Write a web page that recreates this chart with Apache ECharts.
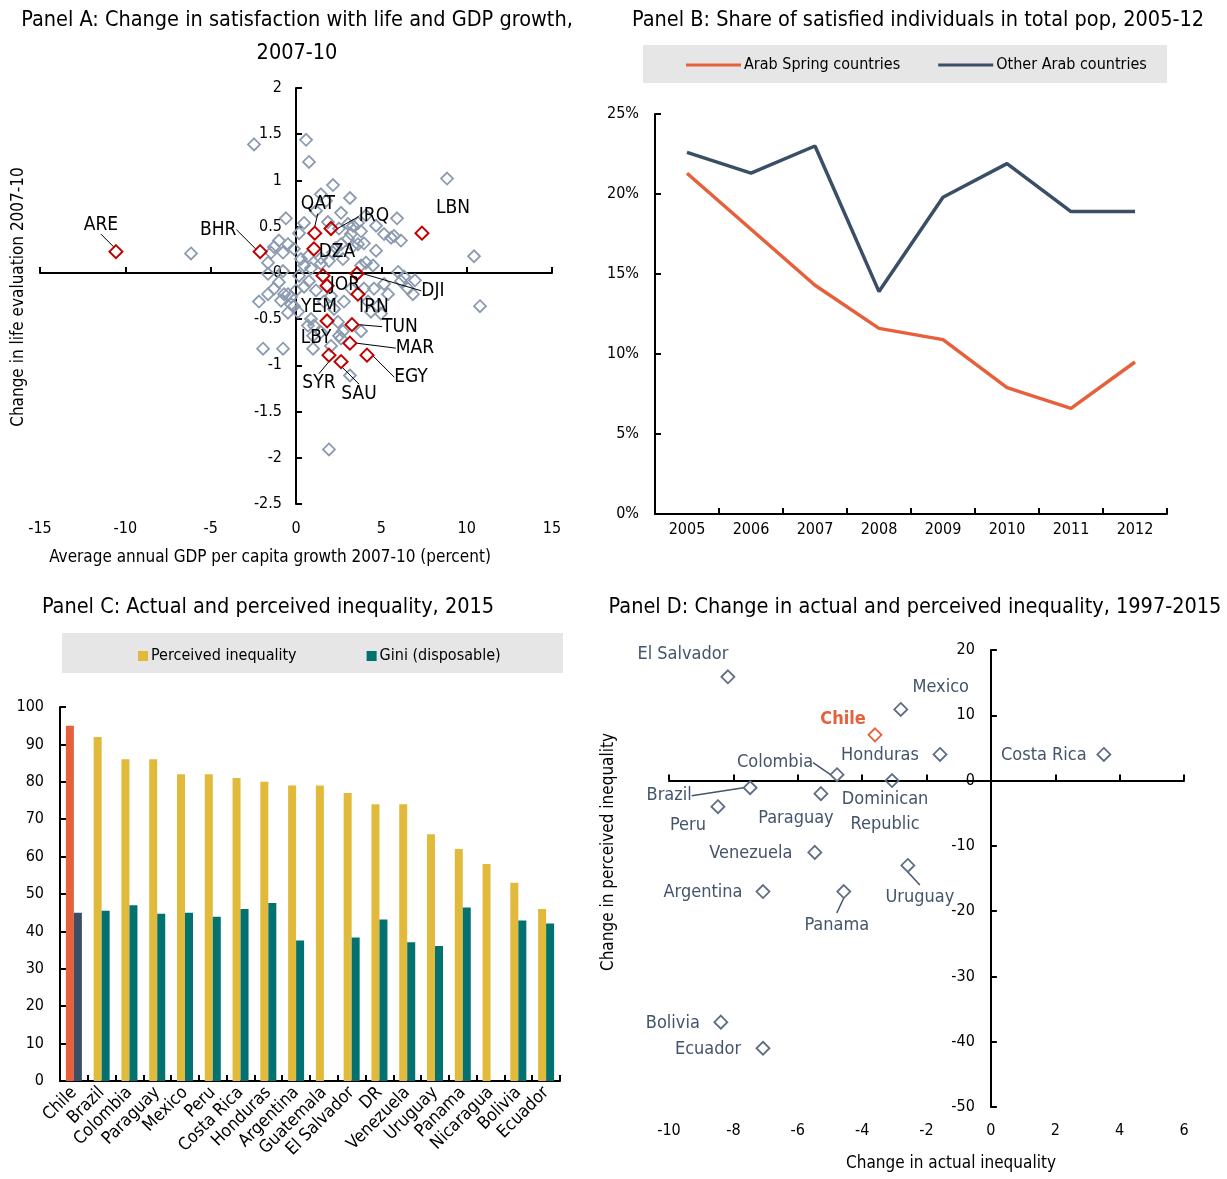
<!DOCTYPE html>
<html>
<head>
<meta charset="utf-8">
<script src="https://cdn.jsdelivr.net/npm/echarts@6/dist/echarts.min.js"></script>
<style>
  html, body { margin: 0; padding: 0; background: #fff; }
  #chart { width: 1227px; height: 1179px; }
</style>
</head>
<body>
<div id="chart"></div>
<script>
// ---------- Panel A: life evaluation change vs GDP per capita growth, 2007-10 ----------
const arabCodes = ['ARE','BHR','QAT','IRQ','LBN','DZA','JOR','YEM','DJI','IRN','TUN','LBY','MAR','SYR','SAU','EGY'];
const arabGdpGrowth = [-10.55, -2.1, 1.1, 2.05, 7.38, 1.05, 1.58, 1.82, 3.57, 3.63, 3.28, 1.82, 3.16, 1.93, 2.64, 4.16];
const arabLifeChange = [0.23, 0.23, 0.43, 0.48, 0.43, 0.26, -0.03, -0.14, -0.01, -0.23, -0.56, -0.52, -0.76, -0.89, -0.96, -0.89];

const otherGdpGrowth = [
  -6.15, -2.46, 0.59, 0.76, 8.85, 10.43, 10.78, 1.93, -1.93, -0.76,
  3.16, 6.33, 6.97, 6.85, 5.92, 2.17, 3.16, -0.59, 0.47, 1.46,
  -1.0, -0.47, -0.12, 0.29, 0.70, 0.47, 0.88, 2.52, 3.05, 3.34,
  3.63, 3.81, 3.22, 3.05, 3.34, 3.98, 4.69, 5.16, 5.57, 6.15,
  5.74, 2.34, 2.75, 1.93, 1.46, 4.10, 4.51, 3.81, -1.46, -1.64,
  -2.17, -1.64, -1.29, -1.0, -0.47, -0.29, -0.12, 0.12, 0.47, 0.88,
  1.05, 1.0, 1.46, 2.46, 2.75, 2.52, 2.05, 4.22, 4.39, 4.80,
  3.98, 4.57, 6.15, 6.56, 5.98, 2.23, 2.81, 3.22, 1.64, 1.0,
  0.70, -0.70, -0.29, -0.47, 2.64, 3.81, 4.98, 5.39, 5.16, 1.87,
  2.64, 3.63, 2.17, 1.46, -0.76, -1.64, -1.29, -0.76, 0.18, 1.17,
  1.76, 2.64, 4.10, 4.69, 0.76, 1.17, 2.05, 0.18, 0.0, -0.88
];
const otherLifeChange = [
  0.21, 1.39, 1.44, 1.20, 1.02, 0.18, -0.36, -1.91, -0.82, -0.82,
  -1.11, -0.04, -0.08, -0.23, 0.59, 0.95, 0.81, 0.59, 0.54, 0.85,
  0.35, 0.31, 0.26, 0.15, 0.18, 0.08, 0.05, 0.48, 0.53, 0.51,
  0.54, 0.45, 0.42, 0.37, 0.29, 0.32, 0.24, 0.42, 0.38, 0.35,
  0.40, 0.27, 0.15, 0.13, 0.10, 0.11, 0.08, 0.08, 0.22, 0.11,
  -0.31, -0.23, -0.17, -0.10, -0.23, -0.26, -0.36, -0.42, -0.15, -0.50,
  -0.57, -0.68, -0.64, -0.53, -0.63, -0.68, -0.79, -0.31, -0.42, -0.36,
  -0.17, -0.17, -0.09, -0.17, 0.01, -0.39, -0.31, -0.17, -0.31, -0.82,
  -0.57, -0.23, -0.34, -0.43, -0.71, -0.63, -0.44, -0.23, -0.12, 0.55,
  0.31, 0.31, 0.22, 0.16, 0.02, -0.01, 0.28, 0.22, 0.43, 0.67,
  0.78, 0.65, 0.62, 0.51, -0.09, -0.19, -0.25, -0.03, -0.19, -0.30
];

// ---------- Panel B: share of satisfied individuals (%) ----------
const years = ['2005','2006','2007','2008','2009','2010','2011','2012'];
const arabSpringShare = [21.3, 17.8, 14.3, 11.6, 10.9, 7.9, 6.6, 9.5];
const otherArabShare = [22.6, 21.3, 23.0, 13.9, 19.8, 21.9, 18.9, 18.9];

// ---------- Panel C: perceived inequality and Gini, 2015 ----------
const countriesC = ['Chile','Brazil','Colombia','Paraguay','Mexico','Peru','Costa Rica','Honduras','Argentina',
  'Guatemala','El Salvador','DR','Venezuela','Uruguay','Panama','Nicaragua','Bolivia','Ecuador'];
const perceivedIneq = [95, 92, 86, 86, 82, 82, 81, 80, 79, 79, 77, 74, 74, 66, 62, 58, 53, 46];
const giniDisposable = [45, 45.5, 47, 44.7, 45, 43.9, 46, 47.6, 37.6, null, 38.4, 43.2, 37.1, 36.1, 46.4, null, 42.9, 42.1];

// ---------- Panel D: change in actual vs perceived inequality, 1997-2015 ----------
const countriesD = ['El Salvador','Mexico','Chile','Honduras','Costa Rica','Colombia','Dominican\nRepublic','Brazil',
  'Paraguay','Peru','Venezuela','Uruguay','Argentina','Panama','Bolivia','Ecuador'];
const actualChange = [-8.17, -2.8, -3.6, -1.58, 3.51, -4.78, -3.07, -7.48, -5.28, -8.48, -5.47, -2.58, -7.08, -4.57, -8.39, -7.08];
const perceivedChange = [15.9, 10.9, 7.0, 4.0, 4.0, 0.9, 0.0, -1.1, -2.0, -4.0, -11.0, -13.0, -17.0, -17.0, -37.0, -41.0];

// ---------- styling ----------
const FONT = "'DejaVu Sans Condensed','DejaVu Sans',sans-serif";
const ORANGE = '#e5603b';
const SLATE = '#3a4e66';
const GOLD = '#e1b93b';
const TEAL = '#037170';
const DARKRED = '#c00000';
const GREYMARK = '#8c9bb0';
const LABELD = '#44546a';

// label offsets (px) relative to each marker, and whether a guide line is drawn
const arabLabelOffsets = [[-15,-27],[-42,-22],[3,-29],[43,-12],[31,-25],[23,3],[22,9],[-8,21],[76,17],[16,13],[48,2],[-11,17],[65,5],[-10,28],[18,32],[44,22]];
const arabLabelGuides = [true,true,true,true,false,false,false,false,true,false,true,false,true,true,true,true];
const dLabelOffsets = [[-45,-22],[40,-22],[-32,-16],[-60,1],[-60,1],[-62,-12],[-7,31],[-81,8],[-25,25],[-30,19],[-64,1],[12,32],[-60,1],[-7,34],[-48,1],[-55,1]];
const dLabelGuides = [false,false,false,false,false,true,false,true,false,false,false,true,false,true,false,false];

// grid boxes
const gridA = { left: 40, top: 88, width: 512, height: 416 };
const gridB = { left: 655, top: 114, width: 512, height: 400 };
const gridC = { left: 60, top: 707, width: 500, height: 374 };
const gridD = { left: 669, top: 650, width: 515, height: 457 };
const xRangeA = [-15, 15];
const xRangeD = [-10, 6];
// shift a left-hand y axis so it sits on x = 0
const zeroShift = (g, r) => -g.width * (0 - r[0]) / (r[1] - r[0]);

const axisLineStyle = { color: '#000', width: 2 };
const tickStyle = { show: true, inside: true, length: 6, lineStyle: { color: '#000', width: 2 } };
const labelFont = { color: '#000', fontSize: 16, fontFamily: FONT };

const arabData = arabCodes.map((c, i) => ({
  name: c, value: [arabGdpGrowth[i], arabLifeChange[i]],
  labelLine: { show: arabLabelGuides[i] }
}));
const otherData = otherGdpGrowth.map((x, i) => [x, otherLifeChange[i]]);
const dData = countriesD.map((c, i) => ({
  name: c, value: [actualChange[i], perceivedChange[i]],
  itemStyle: c === 'Chile' ? { borderColor: ORANGE } : undefined,
  label: c === 'Chile' ? { color: ORANGE, fontWeight: 'bold' } : undefined,
  labelLine: { show: dLabelGuides[i] }
}));

function textEl(x, y, text, size, rot) {
  return {
    type: 'text', x: x, y: y, rotation: rot || 0, z: 10,
    style: { text: text, fill: '#000', font: size + 'px ' + FONT, align: 'center', verticalAlign: 'middle',
             textAlign: 'center', textVerticalAlign: 'middle' }
  };
}

const option = {
  animation: false,
  backgroundColor: '#fff',
  textStyle: { fontFamily: FONT },
  graphic: [
    textEl(297, 20, 'Panel A: Change in satisfaction with life and GDP growth,', 21.5),
    textEl(297, 53, '2007-10', 21.5),
    textEl(918, 20, 'Panel B: Share of satisfied individuals in total pop, 2005-12', 21.5),
    textEl(268, 607, 'Panel C: Actual and perceived inequality, 2015', 21.5),
    textEl(915, 607, 'Panel D: Change in actual and perceived inequality, 1997-2015', 21.5),
    textEl(19, 297, 'Change in life evaluation 2007-10', 17, Math.PI / 2),
    textEl(270, 558, 'Average annual GDP per capita growth 2007-10 (percent)', 17),
    textEl(609, 852, 'Change in perceived inequality', 17, Math.PI / 2),
    textEl(951, 1164, 'Change in actual inequality', 17),
    { type: 'rect', z: -10, shape: { x: 643, y: 45, width: 524, height: 38 }, style: { fill: '#e6e6e6' } },
    { type: 'rect', z: -10, shape: { x: 62, y: 633, width: 501, height: 40 }, style: { fill: '#e6e6e6' } }
  ],
  legend: [
    {
      data: ['Arab Spring countries', 'Other Arab countries'],
      left: 681, top: 52, icon: 'rect', itemWidth: 55, itemHeight: 3, itemGap: 38,
      textStyle: { color: '#000', fontSize: 16, fontFamily: FONT, padding: [0, 0, 0, -2] }
    },
    {
      data: ['Perceived inequality', 'Gini (disposable)'],
      left: 133, top: 643, icon: 'rect', itemWidth: 10, itemHeight: 10, itemGap: 70,
      textStyle: { color: '#000', fontSize: 16, fontFamily: FONT, padding: [0, 0, 0, -2] }
    }
  ],
  grid: [gridA, gridB, gridC, gridD].map(g => Object.assign({ outerBoundsMode: 'none', containLabel: false }, g)),
  xAxis: [
    { // Panel A: zero line with ticks
      gridIndex: 0, type: 'value', min: xRangeA[0], max: xRangeA[1], interval: 5, position: 'bottom',
      axisLine: { show: true, onZero: true, lineStyle: axisLineStyle },
      axisTick: tickStyle, axisLabel: { show: false }, splitLine: { show: false }
    },
    { // Panel A: tick labels along the bottom
      gridIndex: 0, type: 'value', min: xRangeA[0], max: xRangeA[1], interval: 5, position: 'bottom',
      axisLine: { show: false, onZero: false }, axisTick: { show: false },
      axisLabel: Object.assign({ margin: 17 }, labelFont), splitLine: { show: false }
    },
    { // Panel B
      gridIndex: 1, type: 'category', data: years, boundaryGap: true,
      axisLine: { lineStyle: axisLineStyle }, axisTick: tickStyle,
      axisLabel: Object.assign({ margin: 8 }, labelFont), splitLine: { show: false }
    },
    { // Panel C
      gridIndex: 2, type: 'category', data: countriesC, boundaryGap: true,
      axisLine: { lineStyle: axisLineStyle }, axisTick: tickStyle,
      axisLabel: Object.assign({}, labelFont, { margin: 9, rotate: 45, interval: 0, fontSize: 17.5 }), splitLine: { show: false }
    },
    { // Panel D: zero line with ticks
      gridIndex: 3, type: 'value', min: xRangeD[0], max: xRangeD[1], interval: 2, position: 'bottom',
      axisLine: { show: true, onZero: true, lineStyle: axisLineStyle },
      axisTick: tickStyle, axisLabel: { show: false }, splitLine: { show: false }
    },
    { // Panel D: tick labels along the bottom
      gridIndex: 3, type: 'value', min: xRangeD[0], max: xRangeD[1], interval: 2, position: 'bottom',
      axisLine: { show: false, onZero: false }, axisTick: { show: false },
      axisLabel: Object.assign({ margin: 16 }, labelFont), splitLine: { show: false }
    }
  ],
  yAxis: [
    {
      gridIndex: 0, type: 'value', min: -2.5, max: 2, interval: 0.5,
      position: 'left', offset: zeroShift(gridA, xRangeA),
      axisLine: { show: true, onZero: false, lineStyle: axisLineStyle },
      axisTick: tickStyle, axisLabel: Object.assign({ margin: 14 }, labelFont), splitLine: { show: false }
    },
    {
      gridIndex: 1, type: 'value', min: 0, max: 25, interval: 5,
      axisLine: { show: true, lineStyle: axisLineStyle },
      axisTick: tickStyle, axisLabel: Object.assign({ margin: 16, formatter: '{value}%' }, labelFont),
      splitLine: { show: false }
    },
    {
      gridIndex: 2, type: 'value', min: 0, max: 100, interval: 10,
      axisLine: { show: true, lineStyle: axisLineStyle },
      axisTick: tickStyle, axisLabel: Object.assign({ margin: 16 }, labelFont), splitLine: { show: false }
    },
    {
      gridIndex: 3, type: 'value', min: -50, max: 20, interval: 10,
      position: 'left', offset: zeroShift(gridD, xRangeD),
      axisLine: { show: true, onZero: false, lineStyle: axisLineStyle },
      axisTick: tickStyle, axisLabel: Object.assign({ margin: 16 }, labelFont), splitLine: { show: false }
    }
  ],
  series: [
    {
      type: 'scatter', xAxisIndex: 0, yAxisIndex: 0, data: otherData,
      symbol: 'diamond', symbolSize: 12, silent: true,
      itemStyle: { color: 'rgba(0,0,0,0)', borderColor: GREYMARK, borderWidth: 1.8, opacity: 1 }, z: 2
    },
    {
      type: 'scatter', xAxisIndex: 0, yAxisIndex: 0, data: arabData,
      symbol: 'diamond', symbolSize: 13, silent: true,
      itemStyle: { color: 'rgba(0,0,0,0)', borderColor: DARKRED, borderWidth: 2, opacity: 1 }, z: 3,
      label: { show: true, position: 'inside', formatter: '{b}', color: '#000', fontSize: 19, fontFamily: FONT },
      labelLine: { show: true, lineStyle: { color: '#000', width: 1 } },
      labelLayout: p => ({ dx: arabLabelOffsets[p.dataIndex][0], dy: arabLabelOffsets[p.dataIndex][1] })
    },
    {
      name: 'Arab Spring countries', type: 'line', xAxisIndex: 2, yAxisIndex: 1, data: arabSpringShare,
      showSymbol: false, lineStyle: { color: ORANGE, width: 3.5 }, itemStyle: { color: ORANGE }
    },
    {
      name: 'Other Arab countries', type: 'line', xAxisIndex: 2, yAxisIndex: 1, data: otherArabShare,
      showSymbol: false, lineStyle: { color: SLATE, width: 3.5 }, itemStyle: { color: SLATE }
    },
    {
      name: 'Perceived inequality', type: 'bar', xAxisIndex: 3, yAxisIndex: 2,
      data: perceivedIneq.map((v, i) => i === 0 ? { value: v, itemStyle: { color: ORANGE } } : v),
      barWidth: 8, barGap: '0%', itemStyle: { color: GOLD }
    },
    {
      name: 'Gini (disposable)', type: 'bar', xAxisIndex: 3, yAxisIndex: 2,
      data: giniDisposable.map((v, i) => i === 0 ? { value: v, itemStyle: { color: SLATE } } : v),
      barWidth: 8, barGap: '0%', itemStyle: { color: TEAL }
    },
    {
      type: 'scatter', xAxisIndex: 4, yAxisIndex: 3, data: dData,
      symbol: 'diamond', symbolSize: 13, silent: true,
      itemStyle: { color: 'rgba(0,0,0,0)', borderColor: '#5d6e84', borderWidth: 1.8, opacity: 1 },
      label: { show: true, position: 'inside', formatter: '{b}', color: LABELD, fontSize: 18, fontFamily: FONT, lineHeight: 25, align: 'center' },
      labelLine: { show: true, lineStyle: { color: LABELD, width: 1.5 } },
      labelLayout: p => ({ dx: dLabelOffsets[p.dataIndex][0], dy: dLabelOffsets[p.dataIndex][1] })
    }
  ]
};

const chart = echarts.init(document.getElementById('chart'), null, { renderer: 'canvas' });
chart.setOption(option);
</script>
</body>
</html>
